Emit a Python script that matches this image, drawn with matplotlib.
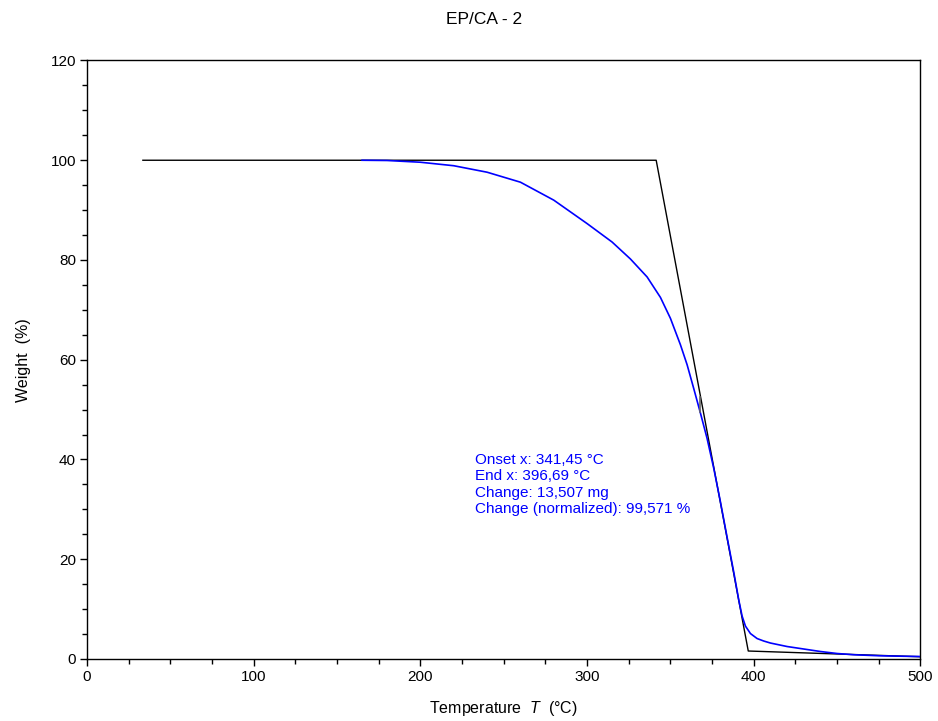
import matplotlib
matplotlib.use("Agg")
import matplotlib.pyplot as plt
from matplotlib.ticker import MultipleLocator

plt.rcParams['font.family'] = ['Liberation Sans', 'DejaVu Sans']
plt.rcParams['mathtext.fontset'] = 'custom'
plt.rcParams['mathtext.rm'] = 'Liberation Sans'
plt.rcParams['mathtext.it'] = 'Liberation Sans:italic'

# Measured TGA curve (blue)
temp = [165, 180, 200, 220, 240, 260, 280, 300, 315, 326, 336, 344, 350,
        356, 360, 364, 368, 372, 376, 380, 384, 388, 391, 393, 395, 398,
        402, 406, 410, 420, 430, 440, 450, 460, 475, 490, 500]
weight = [100.0, 99.95, 99.6, 98.9, 97.6, 95.6, 92.0, 87.3, 83.6, 80.2,
          76.6, 72.5, 68.3, 63.0, 59.0, 54.2, 49.3, 44.2, 38.2, 31.5, 24.4,
          17.4, 11.8, 8.6, 6.6, 5.1, 4.1, 3.6, 3.2, 2.5, 2.0, 1.5, 1.1, 0.85,
          0.65, 0.55, 0.5]

# Onset / end construction lines (black)
step_t = [33.5, 341.45, 396.69, 500]
step_w = [100.0, 100.0, 1.6, 0.45]

# Inflection marker
mark_t = [367.6, 367.6]
mark_w = [49.5, 52.5]

annotation = ["Onset x: 341,45 °C", "End x: 396,69 °C", "Change: 13,507 mg",
              "Change (normalized): 99,571 %"]

fig = plt.figure(figsize=(9.38, 7.21), dpi=100)
ax = fig.add_axes([0.0928, 0.0860, 0.8885, 0.8301])

ax.plot(step_t, step_w, color='black', lw=1.0, zorder=2)
ax.plot(temp, weight, color='#0000ff', lw=1.2, zorder=3)
ax.plot(mark_t, mark_w, color='#666666', lw=1.2, zorder=5)

ax.set_xlim(0, 500)
ax.set_ylim(0, 120)
ax.xaxis.set_major_locator(MultipleLocator(100))
ax.xaxis.set_minor_locator(MultipleLocator(25))
ax.yaxis.set_major_locator(MultipleLocator(20))
ax.yaxis.set_minor_locator(MultipleLocator(5))
ax.tick_params(which='major', direction='out', length=5, width=1, labelsize=11, pad=3,
               top=False, right=False)
ax.tick_params(which='minor', direction='out', length=3.3, width=1, top=False, right=False)
for s in ax.spines.values():
    s.set_linewidth(1.0)

ax.set_xlabel("Temperature  $T$  (°C)", fontsize=11.5, labelpad=11)
ax.set_ylabel("Weight  (%)", fontsize=11.5, labelpad=14)

fig.text(484 / 938, 1 - 20 / 721, "EP/CA - 2", ha='center', va='center', fontsize=12.5)

ax.text(233, 35.0, "\n".join(annotation), color='#0000ff', fontsize=11,
        ha='left', va='center', linespacing=1.2)

fig.savefig("out.png", dpi=100)
